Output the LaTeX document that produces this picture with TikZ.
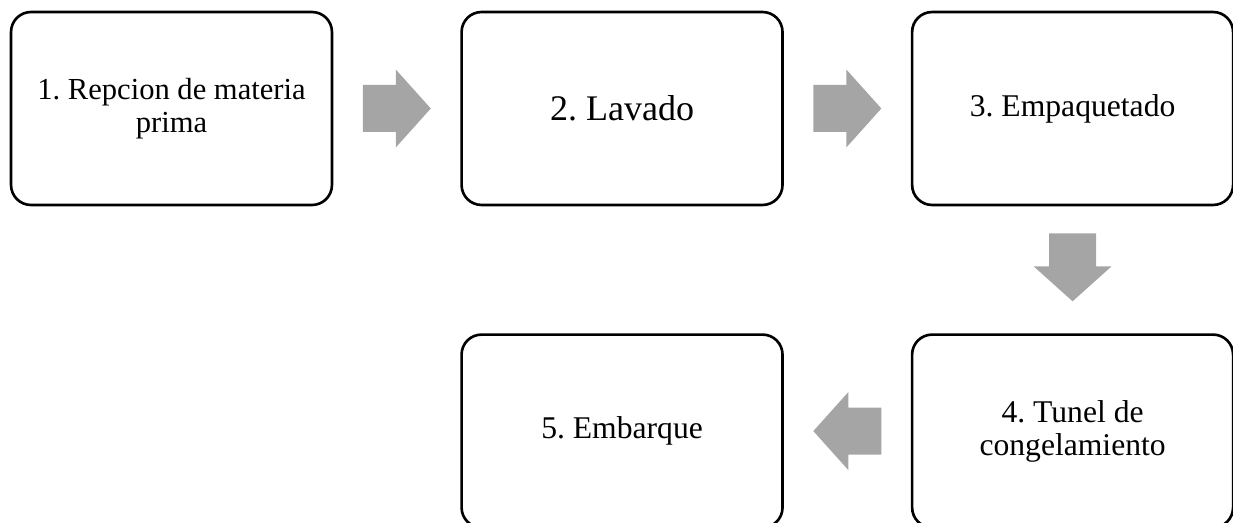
\documentclass[tikz,border=0pt]{standalone}
\usepackage{fontspec}
\setmainfont{Liberation Serif}
\usepackage{xcolor}
\usetikzlibrary{positioning, calc}
\definecolor{grisflecha}{HTML}{A5A5A5}

\begin{document}
\frenchspacing
\begin{tikzpicture}[x=0.02cm, y=-0.02cm,
    paso/.style={draw, line width=1.5pt, rounded corners=0.4cm,
                 minimum width=6.42cm, minimum height=3.86cm,
                 align=center, font=\fontsize{18}{18.8}\selectfont},
    flecha/.style={fill=grisflecha}]
                % marco de la imagen
                \useasboundingbox (0,0) rectangle (1233,523);
                \clip (0,0) rectangle (1233,523);

                % cajas del proceso
                \node[paso, font=\fontsize{17.4}{18.8}\selectfont] (recepcion) at (171.5,108.5) {1. Repcion de materia\\prima};
                \node[paso, font=\fontsize{20.5}{22}\selectfont, right=2.54cm of recepcion] (lavado) {2. Lavado};
                \node[paso, right=2.54cm of lavado] (empaque) {3. Empaquetado};
                \node[paso, below=2.54cm of empaque] (tunel) {4. Tunel de\\congelamiento};
                \node[paso, left=2.54cm of tunel] (embarque) {5. Embarque};

                % puntos entre cajas
                \coordinate (m12) at ($(recepcion.east)!0.5!(lavado.west)$);
                \coordinate (m23) at ($(lavado.east)!0.5!(empaque.west)$);
                \coordinate (m34) at ($(empaque.south)!0.5!(tunel.north)+(0,-2.5)$);
                \coordinate (m45) at ($(tunel.west)!0.5!(embarque.east)$);

                % flechas grises
                \foreach \m/\ang in {m12/0, m23/0, m34/-90, m45/180} {
                    \begin{scope}[shift={(\m)}, rotate=\ang]
                        \fill[flecha] (-34,-23.5) -- (-1,-23.5) -- (-1,-39) -- (34,0)
                            -- (-1,39) -- (-1,23.5) -- (-34,23.5) -- cycle;
                    \end{scope}
                }
\end{tikzpicture}
\end{document}
